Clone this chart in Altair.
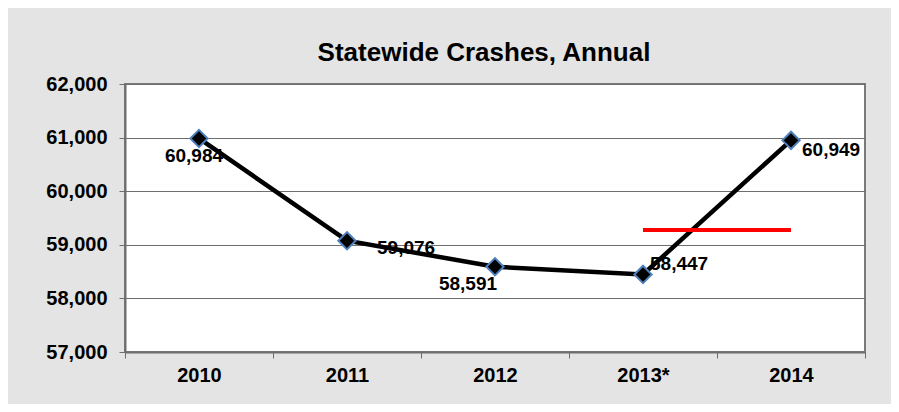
import altair as alt
import pandas as pd

years = ["2010", "2011", "2012", "2013*", "2014"]
crashes = [60984, 59076, 58591, 58447, 60949]
ref_years = ["2013*", "2014"]
ref_values = [59275, 59275]
y_ticks = [57000, 58000, 59000, 60000, 61000, 62000]

df = pd.DataFrame({"year": years, "crashes": crashes})
ref = pd.DataFrame({"year": ref_years, "crashes": ref_values})

FONT = "Liberation Sans"

x = alt.X("year:N", sort=years, title=None,
          scale=alt.Scale(paddingInner=0, paddingOuter=0),
          axis=alt.Axis(labelAngle=0, labelFont=FONT, labelFontSize=20, labelFontWeight="bold",
                        labelColor="black", tickBand="extent", tickSize=6, tickColor="#6e6e6e",
                        domainColor="#6e6e6e", domainWidth=2, labelPadding=7, grid=False))
y = alt.Y("crashes:Q", title=None,
          scale=alt.Scale(domain=[57000, 62000], nice=False, zero=False),
          axis=alt.Axis(values=y_ticks, format=",.0f", labelFont=FONT, labelFontSize=20,
                        labelFontWeight="bold", labelColor="black", tickSize=6,
                        tickColor="#6e6e6e", domainColor="#6e6e6e", domainWidth=2,
                        labelPadding=12, grid=True, gridColor="#6e6e6e", gridWidth=1.2))

base = alt.Chart(df)

line = base.mark_line(color="black", strokeWidth=4.5).encode(x=x, y=y)

refline = alt.Chart(ref).mark_line(color="#ff0000", strokeWidth=4).encode(x=x, y=y)

points = base.mark_point(shape="diamond", size=300, filled=True, fill="black",
                         stroke="#4f81bd", strokeWidth=2, opacity=1).encode(x=x, y=y)

offsets = {
    "2010": dict(dx=-5, dy=18, align="center"),
    "2011": dict(dx=30, dy=7, align="left"),
    "2012": dict(dx=-27, dy=17, align="center"),
    "2013*": dict(dx=7, dy=-10, align="left"),
    "2014": dict(dx=11, dy=10, align="left"),
}
labels = []
for yr, o in offsets.items():
    labels.append(
        base.transform_filter(alt.datum.year == yr).mark_text(
            font=FONT, fontSize=19, fontWeight="bold", color="black",
            baseline="middle", **o).encode(
            x=x, y=y, text=alt.Text("crashes:Q", format=",.0f"))
    )

chart = alt.layer(line, refline, points, *labels).properties(
    width=740, height=268,
    title=alt.TitleParams("Statewide Crashes, Annual", font=FONT, fontSize=26,
                          fontWeight="bold", color="black", anchor="middle",
                          dx=-11, offset=8),
    autosize=alt.AutoSizeParams(type="none"),
    padding={"left": 117, "top": 76, "right": 26, "bottom": 52},
    background="#e4e4e4",
).configure_view(fill="white", stroke="#7a7a7a", strokeWidth=2)

chart.save("out.html", embed_options={"renderer": "svg", "actions": False})
